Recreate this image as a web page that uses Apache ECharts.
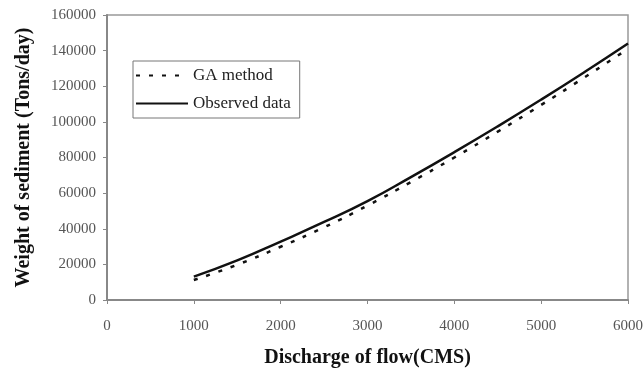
<!DOCTYPE html>
<html>
<head>
<meta charset="utf-8">
<script src="https://cdn.jsdelivr.net/npm/echarts@6/dist/echarts.min.js"></script>
<style>
  html, body { margin: 0; padding: 0; background: #fff; }
  #chart { width: 644px; height: 372px; }
</style>
</head>
<body>
<div id="chart"></div>
<script>
// discharge (CMS)
var discharge = [1000, 1500, 2000, 2500, 3000, 3500, 4000, 4500, 5000, 5500, 6000];
// sediment weight (Tons/day)
var observed = [13100, 22200, 32800, 43800, 55500, 69000, 83000, 97500, 112500, 128000, 144000];
var gaMethod = [11200, 19800, 29900, 40800, 53000, 66200, 80000, 94500, 109500, 125000, 141000];

var myChart = echarts.init(document.getElementById('chart'));

function pairs(xs, ys) {
  var out = [];
  for (var i in xs) out.push([xs[i], ys[i]]);
  return out;
}

var option = {
  backgroundColor: '#fff',
  animation: false,
  textStyle: { fontFamily: 'Liberation Serif' },
  legend: {
    left: 133,
    top: 61,
    orient: 'vertical',
    itemWidth: 52,
    itemHeight: 10,
    itemGap: 11,
    itemStyle: { opacity: 0 },
    padding: [6, 9, 6, 2],
    borderColor: '#777',
    borderWidth: 1,
    textStyle: { color: '#222', fontSize: 17, fontFamily: 'Liberation Serif' },
    data: ['GA method', 'Observed data']
  },
  grid: {
    left: 107,
    right: 16,
    top: 15,
    bottom: 72,
    containLabel: false,
    outerBoundsMode: 'none',
    show: true,
    borderColor: '#999',
    borderWidth: 1.5
  },
  xAxis: {
    type: 'value',
    min: 0,
    max: 6000,
    interval: 1000,
    name: 'Discharge of flow(CMS)',
    nameLocation: 'middle',
    nameGap: 48,
    nameTextStyle: { color: '#111', fontSize: 20, fontWeight: 'bold', fontFamily: 'Liberation Serif' },
    axisLine: { lineStyle: { color: '#888', width: 2 } },
    axisTick: { show: true, length: 4, lineStyle: { color: '#888' } },
    axisLabel: { color: '#555', fontSize: 15, margin: 19, formatter: function (v) { return String(v); } },
    splitLine: { show: false }
  },
  yAxis: {
    type: 'value',
    min: 0,
    max: 160000,
    interval: 20000,
    name: 'Weight of sediment (Tons/day)',
    nameLocation: 'middle',
    nameGap: 73,
    nameTextStyle: { color: '#111', fontSize: 20, fontWeight: 'bold', fontFamily: 'Liberation Serif' },
    axisLine: { show: true, lineStyle: { color: '#888', width: 2 } },
    axisTick: { show: true, length: 4, lineStyle: { color: '#888' } },
    axisLabel: { color: '#555', fontSize: 15, margin: 11, formatter: function (v) { return String(v); } },
    splitLine: { show: false }
  },
  series: [
    {
      name: 'GA method',
      type: 'line',
      symbol: 'none',
      smooth: true,
      data: pairs(discharge, gaMethod),
      lineStyle: { color: '#111', width: 2.5, type: [4, 9] },
      itemStyle: { color: '#111' }
    },
    {
      name: 'Observed data',
      type: 'line',
      symbol: 'none',
      smooth: true,
      data: pairs(discharge, observed),
      lineStyle: { color: '#111', width: 2.5 },
      itemStyle: { color: '#111' }
    }
  ]
};

myChart.setOption(option);
</script>
</body>
</html>
